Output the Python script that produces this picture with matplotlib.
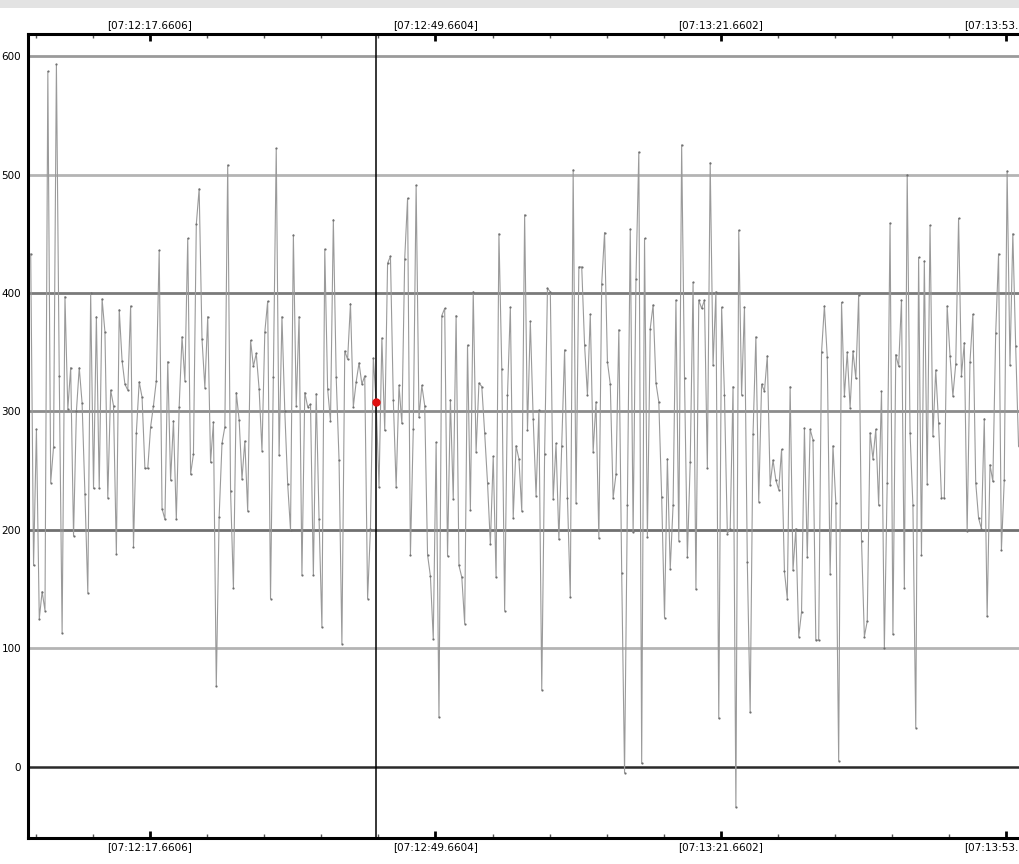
import numpy as np
import matplotlib
matplotlib.use("Agg")
import matplotlib.pyplot as plt
from matplotlib.patches import Rectangle
from matplotlib.ticker import FixedLocator

# ---- data ----
values = [
    433, 170, 285, 125, 148, 132, 587, 240, 270, 593,
    330, 113, 397, 302, 337, 195, 300, 337, 307, 230,
    147, 400, 235, 380, 235, 395, 367, 227, 318, 305,
    180,
    386, 343, 323, 318, 389, 186, 282, 325, 312, 252,
    252, 287, 305, 326, 436, 218, 209, 342, 242, 292,
    209, 304, 363, 326, 446, 247, 264, 458, 488, 361,
    320,
    380, 257, 291, 68, 211, 273, 287, 508, 233, 151,
    316, 293, 243, 275, 216, 360, 338, 349, 319, 267,
    367, 393, 142, 329, 522, 263, 380, 300, 239,
    200, 449, 305, 380, 162, 316, 304, 306, 162, 315,
    209, 118, 437, 319, 292, 462, 329, 259, 104, 351,
    344, 391, 304, 325, 341, 323, 330, 142, 201, 345,
    308,
    236, 362, 284, 425, 431, 310, 236, 322, 290, 429,
    480, 179, 285, 491, 295, 322, 305, 179, 161, 108,
    274, 42, 381, 387, 178, 310, 226, 381, 170, 160,
    121, 356, 217, 401, 266, 324, 321, 282, 240, 188,
    262, 160, 450, 336, 132, 314, 388, 210, 271,
    260, 216, 466, 284, 376, 294, 229, 301, 65, 264,
    404, 401, 226, 273, 192, 271, 352, 227, 143, 504,
    223, 422, 422, 356, 314, 382, 266, 308, 193, 408,
    451, 342, 323, 227, 247, 369, 164, -5, 221, 454,
    198, 412, 519, 3, 446, 194, 370, 390, 324, 308,
    228, 126, 260, 167, 221, 394, 191, 525,
    328, 177, 257, 409, 150, 394, 387, 394, 252, 510,
    339, 401, 41, 388, 314, 197, 201, 321, -34, 453,
    314, 388, 173, 46, 281, 363, 224, 323, 317, 347,
    238, 259, 242, 234, 268, 165, 142, 321, 166, 201,
    110, 131, 286, 177, 285, 276, 107, 107, 350, 389,
    346, 163, 271, 223, 5, 392, 313, 350,
    303, 351, 328, 398, 191, 110, 123, 282, 260, 285,
    221, 317, 100, 240, 459, 112, 348, 338, 394, 151,
    500, 282, 221, 33, 430, 179, 427, 239, 457, 279,
    335, 290, 227, 227, 389, 347, 313, 340, 463, 330,
    358, 199, 342, 382, 240, 210, 201, 294, 127, 255,
    241, 366, 433, 183, 242, 503, 339, 450, 355, 271,
]
start_seconds = 4.29          # seconds after 07:12:00
sample_interval = 0.32        # seconds
cursor_index = 121

major_tick_times = [17.6606, 49.6604, 81.6602, 113.6600]
major_tick_labels = ['[07:12:17.6606]', '[07:12:49.6604]',
                     '[07:13:21.6602]', '[07:13:53.6600]']
y_ticks = [0, 100, 200, 300, 400, 500, 600]

# ---- styling ----
grid_colors = ['#2a2a2a', '#b4b4b4', '#707070', '#8c8c8c', '#7a7a7a', '#b4b4b4', '#9a9a9a']

times = start_seconds + sample_interval * np.arange(len(values))
vals = np.array(values, dtype=float)

W, H = 1019, 864
fig = plt.figure(figsize=(W / 100, H / 100), dpi=100)
fig.patches.append(Rectangle((0, 1 - 8 / H), 1, 8 / H, transform=fig.transFigure,
                             facecolor='#e3e3e3', edgecolor='none'))

ax = fig.add_axes([28 / W, 26 / H, 1002 / W, 804 / H])
px_per_s = 285.5 / 32.0
ax.set_xlim(17.6606 - 122 / px_per_s, 17.6606 + 880 / px_per_s)
ax.set_ylim(-60, 618.6)

for yv, c in zip(y_ticks, grid_colors):
    ax.axhline(yv, color=c, lw=2.0 if yv else 1.8, zorder=1)

ax.plot(times, vals, color='#9a9a9a', lw=0.8, zorder=3,
        marker='o', markersize=1.6, markerfacecolor='#707070',
        markeredgecolor='#707070', markeredgewidth=0)

ax.axvline(times[cursor_index], color='black', lw=1.1, zorder=4)
ax.plot([times[cursor_index]], [vals[cursor_index]], 'o', color='#e01010',
        markersize=5, zorder=5)

ax.xaxis.set_major_locator(FixedLocator(major_tick_times))
ax.set_xticklabels(major_tick_labels)
step = (major_tick_times[1] - major_tick_times[0]) / 5
minor = [major_tick_times[0] + k * step for k in range(-3, 20)]
ax.xaxis.set_minor_locator(FixedLocator(minor))
ax.tick_params(axis='x', which='major', direction='in', top=True, bottom=True,
               labeltop=True, labelbottom=True, length=5, width=2,
               labelsize=7.5, pad=3, colors='black')
ax.tick_params(axis='x', which='minor', direction='in', top=True, bottom=True,
               length=3, width=1, color='#555555')

ax.set_yticks(y_ticks)
ax.set_yticklabels([str(v) for v in y_ticks])
ax.tick_params(axis='y', length=0, labelsize=7.5, pad=5)

for s in ['left', 'top', 'bottom']:
    ax.spines[s].set_linewidth(2.2)
    ax.spines[s].set_color('black')
ax.spines['right'].set_visible(False)

fig.savefig('out.png', dpi=100)
